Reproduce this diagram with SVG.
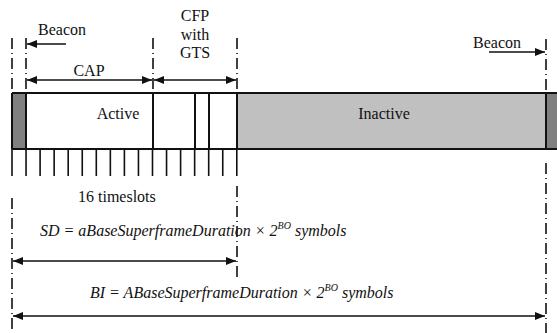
<svg xmlns="http://www.w3.org/2000/svg" width="557" height="333" viewBox="0 0 557 333">
<style>
text{font-family:'Liberation Serif','Times New Roman',Times,serif;font-size:16px;fill:#111}
.i{font-style:italic}
.ln{stroke:#111;stroke-width:2;fill:none}
.tk{stroke:#111;stroke-width:1.6;fill:none}
.dd{stroke:#111;stroke-width:1.6;fill:none;stroke-dasharray:11 4 1 4}
.ar{stroke:#111;stroke-width:1.6;fill:none}
</style>
<defs>
<marker id="ah" viewBox="0 0 10 8" refX="10" refY="4" markerWidth="10" markerHeight="8" markerUnits="userSpaceOnUse" orient="auto-start-reverse">
<path d="M0,0 L10,4 L0,8 Z" fill="#111"/>
</marker>
</defs>
<rect width="557" height="333" fill="#fff"/>
<g id="bar">
<rect x="12" y="93" width="14" height="56" fill="#808080"/>
<rect x="26" y="93" width="211" height="56" fill="#fff"/>
<rect x="237" y="93" width="309" height="56" fill="#c0c0c0"/>
<rect x="546" y="93" width="12" height="56" fill="#808080"/>
<path class="ln" d="M12,93 H558 M12,149 H558 M12,93 V149 M26,93 V149 M153,93 V149 M195,93 V149 M209,93 V149 M237,93 V149 M546,93 V149"/>
<text font-family="Liberation Serif, serif" x="118" y="119" text-anchor="middle">Active</text>
<text font-family="Liberation Serif, serif" x="384" y="119" text-anchor="middle">Inactive</text>
</g>
<g id="timeslots">
<path class="tk" d="M12.0,149 V176 M26.05,149 V176 M40.1,149 V176 M54.15,149 V176 M68.2,149 V176 M82.25,149 V176 M96.3,149 V176 M110.35,149 V176 M124.4,149 V176 M138.45,149 V176 M152.5,149 V176 M166.55,149 V176 M180.6,149 V176 M194.65,149 V176 M208.7,149 V176 M222.75,149 V176 M236.8,149 V176"/>
<text font-family="Liberation Serif, serif" x="78" y="202">16 timeslots</text>
</g>
<g id="markers">
<path class="dd" d="M12,38 V93 M26,38 V93 M153,38 V93 M237,38 V93 M12,198 V333 M237,186 V277 M546,39 V93 M546,163 V333"/>
</g>
<g id="labels" font-family="Liberation Serif, serif">
<text x="38" y="35">Beacon</text>
<text x="89" y="76" text-anchor="middle">CAP</text>
<text x="195" y="21" text-anchor="middle">CFP</text>
<text x="195" y="40" text-anchor="middle">with</text>
<text x="195" y="58" text-anchor="middle">GTS</text>
<text x="473" y="48">Beacon</text>
<text class="i" x="40" y="236">SD = aBaseSuperframeDuration × 2<tspan font-size="10" dy="-7">BO</tspan><tspan dy="7"> symbols</tspan></text>
<text class="i" x="90" y="298">BI = ABaseSuperframeDuration × 2<tspan font-size="10" dy="-7">BO</tspan><tspan dy="7"> symbols</tspan></text>
</g>
<g id="connectors">
<line class="ar" x1="66" y1="44" x2="27" y2="44" marker-end="url(#ah)"/>
<line class="ar" x1="27" y1="80" x2="152" y2="80" marker-start="url(#ah)" marker-end="url(#ah)"/>
<line class="ar" x1="154" y1="80" x2="236" y2="80" marker-start="url(#ah)" marker-end="url(#ah)"/>
<line class="ar" x1="489" y1="52" x2="545" y2="52" marker-end="url(#ah)"/>
<line class="ar" x1="13" y1="261" x2="236" y2="261" marker-start="url(#ah)" marker-end="url(#ah)"/>
<line class="ar" x1="13" y1="316" x2="545" y2="316" marker-start="url(#ah)" marker-end="url(#ah)"/>
</g>
</svg>
